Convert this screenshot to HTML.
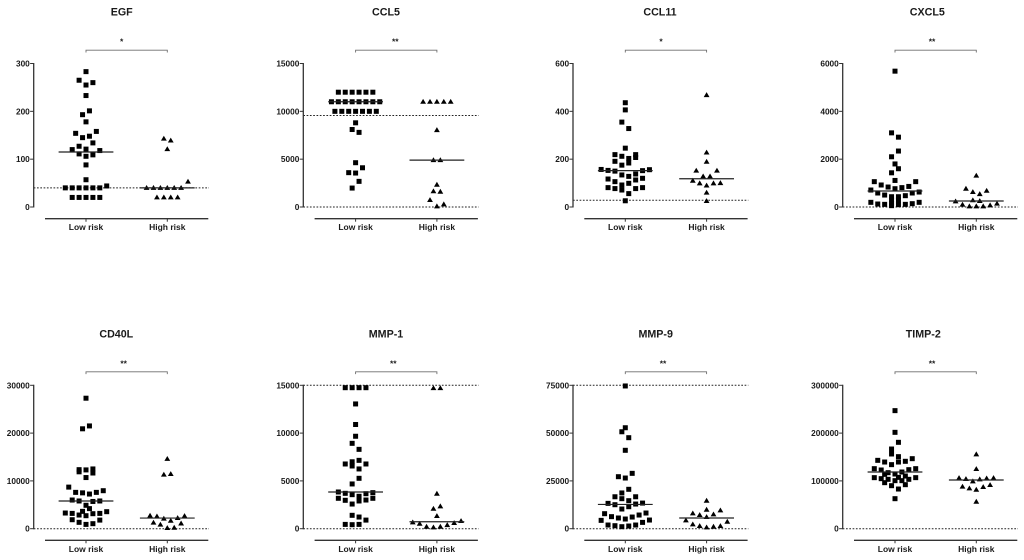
<!DOCTYPE html>
<html lang="en">
<head>
<meta charset="utf-8">
<title>Cytokine levels by risk group</title>
<style>
html,body{margin:0;padding:0;background:#fff;}
svg{display:block;font-family:"Liberation Sans",Arial,sans-serif;filter:blur(0.3px);}
text{font-weight:bold;fill:#1a1a1a;}
</style>
</head>
<body>
<svg id="chart" width="1024" height="560" viewBox="0 0 1024 560" xmlns="http://www.w3.org/2000/svg"></svg>
<script>
const categories = ['Low risk', 'High risk'];
const titles = ['EGF', 'CCL5', 'CCL11', 'CXCL5', 'CD40L', 'MMP-1', 'MMP-9', 'TIMP-2'];
const significance = ['*', '**', '*', '**', '**', '**', '**', '**'];
const tickLabels = [
  [0, 100, 200, 300],
  [0, 5000, 10000, 15000],
  [0, 200, 400, 600],
  [0, 2000, 4000, 6000],
  [0, 10000, 20000, 30000],
  [0, 5000, 10000, 15000],
  [0, 25000, 50000, 75000],
  [0, 100000, 200000, 300000]
];
const referenceLines = [[40], [9570, 0], [28], [0], [0], [15000, 0], [75000, 0], [0]];
const lowMedians = [115, 11000, 152, 670, 5800, 3840, 12700, 118600];
const highMedians = [40, 4900, 118, 250, 2230, 730, 5580, 101900];

/* swarm column of each point (integer half-columns from the group centre) and its value */
const egfLowSlots = [0,-2,2,0,0,1,-1,0,3,-3,1,-1,2,-2,-4,0,4,-2,2,0,0,0,6,-6,-4,-2,0,2,4,-4,-2,0,2,4];
const egfLowValues = [283,265,260,255,233,201,193,178,158,154,148,145,134,127,120,121,118,111,109,106,88,57,44,40,40,40,40,40,40,20,20,20,20,20];
const egfHighSlots = [-1,1,0,6,-6,-4,-2,0,2,4,-3,-1,1,3];
const egfHighValues = [143,139,121,53,40,40,40,40,40,40,20,20,20,20];

const ccl5LowSlots = [-5,-3,-1,1,3,5,-7,-5,-3,-1,1,3,5,7,-6,-4,-2,0,2,4,6,0,-1,1,0,2,-2,0,1,-1];
const ccl5LowValues = [12000,12000,12000,12000,12000,12000,11000,11000,11000,11000,11000,11000,11000,11000,10000,10000,10000,10000,10000,10000,10000,8800,8100,7800,4630,4100,3590,3550,2680,1980];
const ccl5HighSlots = [-4,-2,0,2,4,0,-1,1,0,-1,1,-2,2,0];
const ccl5HighValues = [11000,11000,11000,11000,11000,8040,4900,4900,2330,1640,1600,730,280,70];

const ccl11LowSlots = [0,0,-1,1,0,-3,-1,3,3,1,-3,1,-1,-7,-5,-3,5,7,3,-1,1,-5,3,5,-3,1,-1,-5,-3,-1,3,5,1,0];
const ccl11LowValues = [436,406,355,328,246,219,212,219,207,203,191,184,175,157,153,150,152,156,138,134,128,117,113,120,106,99,92,81,77,71,77,81,56,26];
const ccl11HighSlots = [0,0,0,-3,3,-1,1,-4,-2,2,4,0,0,0];
const ccl11HighValues = [468,228,189,152,152,128,128,110,99,99,100,90,60,25];

const cxcl5LowSlots = [0,-1,1,1,-1,0,1,-1,0,-6,6,-4,-2,4,2,0,-7,-5,7,5,-3,3,1,-1,1,-1,-1,-7,7,-5,-3,1,3,5,-1];
const cxcl5LowValues = [5680,3100,2920,2340,2100,1800,1600,1430,1110,1060,1060,920,835,860,810,765,710,585,626,585,500,473,430,430,290,290,150,195,195,125,111,97,111,139,56];
const cxcl5HighSlots = [0,-3,3,-1,1,-1,1,-6,-4,6,-2,0,2,4];
const cxcl5HighValues = [1310,765,680,625,540,280,250,235,97,139,28,28,28,70];

const cd40lLowSlots = [0,1,-1,-2,0,2,-2,2,0,-5,5,3,-3,-1,1,-4,4,-2,2,0,1,-1,6,-6,-4,4,2,-2,0,-4,4,-2,2,0];
const cd40lLowValues = [27300,21500,20900,12350,12300,12500,11900,11650,10700,8700,7950,7600,7600,7500,7250,6000,5800,5800,5700,4900,4200,3630,3560,3280,3200,3200,3140,2860,2720,1880,1800,1330,1050,900];
const cd40lHighSlots = [0,-1,1,-5,-3,5,3,-1,1,-4,4,-2,0,2];
const cd40lHighValues = [14600,11300,11450,2720,2580,2650,2230,2100,1670,1260,1100,840,140,210];

const mmp1LowSlots = [-3,-1,1,3,0,0,0,-1,1,1,-1,-3,3,-1,1,1,-1,-5,5,-3,3,-1,1,-5,5,-3,3,1,-1,-1,1,3,-3,-1,1];
const mmp1LowValues = [14750,14750,14750,14750,13050,10900,9670,8930,8300,7150,7000,6770,6770,6560,6250,5270,4680,3840,3770,3700,3660,3560,3390,3180,3180,2970,3000,2900,2580,1400,1220,900,450,420,450];
const mmp1HighSlots = [-1,1,0,1,-1,0,7,-7,5,-5,3,-3,1,-1];
const mmp1HighValues = [14700,14700,3660,2340,2090,1330,800,660,590,520,380,210,210,140];

const mmp9LowSlots = [0,0,-1,1,0,2,-2,0,1,-1,-3,3,-1,1,5,-5,3,-3,1,-1,-6,6,4,-4,2,-2,0,-7,7,5,-5,-3,3,-1,1];
const mmp9LowValues = [74650,52800,50700,47600,41000,28950,27200,26500,20600,18700,16700,16700,15700,14650,13400,13250,12900,12550,11500,10300,7850,8200,7150,6300,6100,5600,5060,4360,4530,3300,1920,1570,1920,1050,1400];
const mmp9HighSlots = [0,0,4,-4,2,-2,0,-6,6,-4,-2,4,0,2];
const mmp9HighValues = [14650,9940,9600,8000,7500,7150,6100,4360,3660,2270,1400,1400,700,1050];

const timp2LowSlots = [0,0,1,-1,-1,1,5,-5,3,-3,1,-1,-6,6,4,-4,2,-2,0,-3,3,-6,6,1,-4,4,-2,0,2,-3,3,-1,1,0];
const timp2LowValues = [247000,201600,180700,166700,156300,150700,146500,143000,141000,139500,139500,134000,125600,125600,123500,122800,118600,117200,114400,113700,110200,106800,106800,107400,104700,103300,103300,100500,100500,96300,92100,90000,83000,62800];
const timp2HighSlots = [0,0,-5,-3,3,5,1,-1,4,-4,2,-2,0,0];
const timp2HighValues = [155600,124900,106000,104000,105300,106000,103300,99100,91400,87900,87200,84400,81600,56500];

const lowSlots = [egfLowSlots, ccl5LowSlots, ccl11LowSlots, cxcl5LowSlots, cd40lLowSlots, mmp1LowSlots, mmp9LowSlots, timp2LowSlots];
const lowValues = [egfLowValues, ccl5LowValues, ccl11LowValues, cxcl5LowValues, cd40lLowValues, mmp1LowValues, mmp9LowValues, timp2LowValues];
const highSlots = [egfHighSlots, ccl5HighSlots, ccl11HighSlots, cxcl5HighSlots, cd40lHighSlots, mmp1HighSlots, mmp9HighSlots, timp2HighSlots];
const highValues = [egfHighValues, ccl5HighValues, ccl11HighValues, cxcl5HighValues, cd40lHighValues, mmp1HighValues, mmp9HighValues, timp2HighValues];

const NS = 'http://www.w3.org/2000/svg';
const root = document.getElementById('chart');

function make(parent, tag, attrs, name) {
  const el = document.createElementNS(NS, tag);
  for (const k in attrs) el.setAttribute(k, attrs[k]);
  
  
  parent.appendChild(el);
  return el;
}

function slug(s) { return s.toLowerCase().replace(/[^a-z0-9]+/g, '-'); }

function drawPanel(i) {
  const col = i % 4, row = i < 4 ? 0 : 1;
  const axisX = [33.7, 303.3, 573, 842.7][col];
  const titleX = [121.7, 386, 660, 927.3, 116.3, 386, 655.7, 923.3][i];
  const starX = [121.7, 395.3, 661, 932, 123.7, 393.3, 663, 932][i];
  const yTop = row === 0 ? 63.5 : 385.3;
  const yZero = row === 0 ? 207 : 528.7;
  const axisY = row === 0 ? 218.7 : 540.3;
  const titleY = row === 0 ? 15.5 : 337.5;
  const bracketY = row === 0 ? 50.2 : 371.8;
  const ticks = tickLabels[i];
  const yMax = ticks[ticks.length - 1];
  const yScale = v => yZero - (v / yMax) * (yZero - yTop);
  const groupX = [axisX + 52.3, axisX + 133.6];
  const slotX = (g, s) => groupX[g] + s * 3.45;
  const id = slug(titles[i]);

  const g = make(root, 'g', {}, id + '-panel');

  const title = make(g, 'text', {x: titleX, y: titleY, 'text-anchor': 'middle', 'font-size': 10.7}, id + '-title');
  title.textContent = titles[i];

  make(g, 'path', {
    d: `M${groupX[0]} ${bracketY + 2.3}V${bracketY}H${groupX[1]}V${bracketY + 2.3}`,
    fill: 'none', stroke: '#6e6e6e', 'stroke-width': 0.9
  }, id + '-significance-bracket');
  const star = make(g, 'text', {x: starX, y: bracketY - 5.5, 'text-anchor': 'middle', 'font-size': 8.5}, id + '-significance-stars');
  star.textContent = significance[i];

  referenceLines[i].forEach(v => {
    make(g, 'line', {
      x1: axisX, x2: axisX + 175.3, y1: yScale(v), y2: yScale(v),
      stroke: '#222', 'stroke-width': 1, 'stroke-dasharray': '1.7 1.6'
    }, id + '-reference-line');
  });

  make(g, 'line', {x1: axisX, x2: axisX, y1: yTop - 0.5, y2: yZero + 0.5, stroke: '#333', 'stroke-width': 1.3}, id + '-y-axis');
  ticks.forEach(t => {
    make(g, 'line', {x1: axisX - 3.6, x2: axisX, y1: yScale(t), y2: yScale(t), stroke: '#333', 'stroke-width': 1}, id + '-y-tick');
    const lab = make(g, 'text', {x: axisX - 3.9, y: yScale(t) + 3, 'text-anchor': 'end', 'font-size': 8.3}, id + '-y-tick-label');
    lab.textContent = t;
  });

  make(g, 'line', {x1: axisX + 11.3, x2: axisX + 174.6, y1: axisY, y2: axisY, stroke: '#333', 'stroke-width': 1.3}, id + '-x-axis');
  categories.forEach((c, k) => {
    make(g, 'line', {x1: groupX[k], x2: groupX[k], y1: axisY, y2: axisY + 3, stroke: '#333', 'stroke-width': 1}, id + '-x-tick');
    const lab = make(g, 'text', {x: groupX[k], y: axisY + 11.5, 'text-anchor': 'middle', 'font-size': 8.5}, id + '-x-tick-label');
    lab.textContent = c;
  });

  lowValues[i].forEach((v, n) => {
    const cx = slotX(0, lowSlots[i][n]), cy = yScale(v);
    make(g, 'rect', {x: cx - 2.5, y: cy - 2.5, width: 5, height: 5, fill: '#000'}, id + '-low-risk-point');
  });
  highValues[i].forEach((v, n) => {
    const cx = slotX(1, highSlots[i][n]), cy = yScale(v);
    make(g, 'polygon', {points: `${cx},${cy - 2.9} ${cx + 2.9},${cy + 2} ${cx - 2.9},${cy + 2}`, fill: '#000'}, id + '-high-risk-point');
  });

  [lowMedians[i], highMedians[i]].forEach((m, k) => {
    make(g, 'line', {x1: groupX[k] - 27.4, x2: groupX[k] + 27.4, y1: yScale(m), y2: yScale(m), stroke: '#222', 'stroke-width': 1.2}, id + '-median-line');
  });
}

titles.forEach((t, i) => drawPanel(i));
</script>
</body>
</html>
